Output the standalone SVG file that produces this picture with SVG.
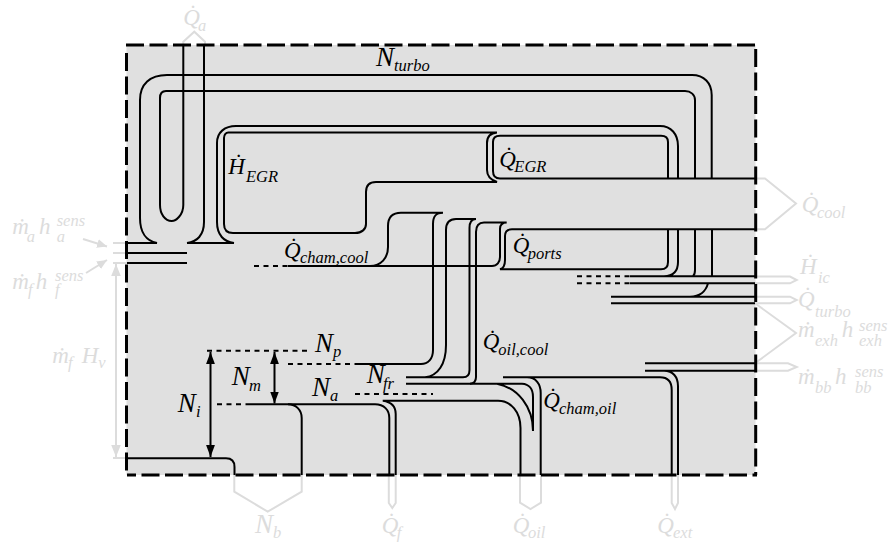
<svg xmlns="http://www.w3.org/2000/svg" width="889" height="545" viewBox="0 0 889 545">
<style>
.k{fill:none;stroke:#000;stroke-width:2}
.d{fill:none;stroke:#000;stroke-width:2;stroke-dasharray:5 4.5}
.g{fill:none;stroke:#dcdcdc;stroke-width:2}
.b{fill:none;stroke:#000;stroke-width:3;stroke-dasharray:18 5.5}
text{font-family:"Liberation Serif","Times New Roman",serif;font-style:italic;font-size:23px;fill:#000}
.n{font-size:27px}
.s{font-size:16.5px}
.l,.l .s{fill:#dcdcdc}
</style>
<defs>
<marker id="ahs" markerWidth="12" markerHeight="16" refX="15" refY="5.5" orient="auto-start-reverse" markerUnits="userSpaceOnUse" viewBox="0 0 15 11"><path d="M0 0L15 5.5L0 11z" fill="#000"/></marker>
<marker id="gh" markerWidth="12" markerHeight="16" refX="15" refY="6" orient="auto-start-reverse" markerUnits="userSpaceOnUse" viewBox="0 0 15 12"><path d="M0 0L15 6L0 12z" fill="#dcdcdc"/></marker>
<marker id="gs" markerWidth="10" markerHeight="9" refX="10" refY="4.5" orient="auto" markerUnits="userSpaceOnUse" viewBox="0 0 10 9"><path d="M0 0L10 4.5L0 9z" fill="#dcdcdc"/></marker>
</defs>
<g id="frame"><rect x="126.5" y="45" width="629" height="430" fill="#e0e0e0" stroke="none"/></g>
<g id="external-flows">
<path class="g" d="M183.3 45V41.7L194.3 31.7L205 41.7V45"/>
<path class="g" d="M755 178.5H765L796 203.5L765 229.3H755"/>
<path class="g" d="M755 276.5H790L796.7 280L790 283.3H755"/>
<path class="g" d="M755 296.7H790L796.7 300L790 303.3H755"/>
<path class="g" d="M755 303.3L796 333L755 363.3"/>
<path class="g" d="M755 363.3H788L796.7 367L788 370.7H755"/>
<path class="g" d="M234.3 475V491.7L267.7 511.7L301.7 491.7V475"/>
<path class="g" d="M388.8 475V503L392.3 508L395.7 503V475"/>
<path class="g" d="M520 475V502.7L530.5 509L541 502.7V475"/>
<path class="g" d="M671.7 475V503L675 509L678 503V475"/>
<path class="g" d="M113 243H127M113 253H127M113 263H127"/>
<path class="g" d="M116 264V457" marker-start="url(#gh)" marker-end="url(#gh)"/>
<path class="g" d="M113 458H127"/>
<path class="g" stroke-width="1.2" d="M83 239L107 246.5" marker-end="url(#gs)"/>
<path class="g" stroke-width="1.2" d="M86 273L107 260" marker-end="url(#gs)"/>
</g>
<g id="connectors">
<path class="k" d="M127 243H157C146 241 140 232 140 218V100C140 84 150 75 167 75H692C704 75 711.7 83 711.7 95V178"/>
<path class="k" d="M183.3 45V205C183.3 215 176 221 171.7 221C165 221 160 214 160 205V98C160 93 162 91 166 91H685C691 91 695 95 695 100V178"/>
<path class="k" d="M204 45V222C204 235 197 242 187 243H234C224 242 217 235 217 222V143C217 132 225 126 236 126H660C671 126 678 134 678 146V178"/>
<path class="k" d="M127 253H187M127 263H187"/>
<path class="k" d="M497 132.5H229C226 132 224 135 224 138V224C224 230 227 233 233 233H355C362 233 366 229 366 224V192C366 185 369 182 376 182H497C491 180 487 177 487 170V143C487 136 491 133 497 132.5"/>
<path class="k" d="M755 178.5H500C495 178.5 493 175 493 171V142C493 138 495 135.7 500 135.7H661C666 135.7 668 138 668 142V178.5"/>
<path class="k" d="M755 229.3H512C507 229.3 505 232 505 236V260C505 265 503 268.5 500 269.3H661C666 269.3 668 267 668 262V229.3"/>
<path class="k" d="M678 229.3V262C678 271 673 276 664 276.3M630 276.3H755M630 283.3H755"/>
<path class="k" d="M695 229.3V270C695 273 694.5 275 693 276.3M712 229.3V276.3"/>
<path class="d" d="M577 276.3H630M577 283.3H630"/>
<path class="k" d="M611 296.7H755M611 303.3H755M708 283.3C706 291 700 296.7 690 296.7"/>
<path class="k" d="M288 266H492C497 266 500 262 500 257V229C500 225 502 222.5 506.7 222.5H484C479 222.5 476 226 476 232V377C476 381 474 383.5 470 383.7"/>
<path class="d" d="M254 266H288"/>
<path class="k" d="M370 266C381 266 388 258 388 247V226C388 217 393 212.7 401 212.7H443C436 212.7 433 216 433 224V350C433 359 428 364 421 364H357"/>
<path class="d" d="M288 364H357"/>
<path class="k" d="M476 219H456C449 219 446 223 446 230V345C446 364 438 376 425 377.3H406M476 219C472 219 469.5 222 469.5 228V370C469.5 375 467 377.3 463 377.3H420"/>
<path class="k" d="M406 383.7H522C529 384 533 389 533 397V431M497 383.7C518 388 533 407 533 431"/>
<path class="k" d="M503 377.3H660C668 377.3 671.7 382 671.7 390V475M527 377.3C536 377.3 540.7 384 540.7 393V475"/>
<path class="k" d="M645 363.3H755M645 370.7H755M664 370.7C673 370.7 678 377 678 386V475"/>
<path class="k" d="M382.7 400.8H498C511 400.8 520.5 412 520.5 428V475M383 400.8C391 402 395.7 406 395.7 414V475"/>
<path class="k" d="M248 404.3H375C384 404.300 389.3 410 389.3 418V475"/>
<path class="d" d="M217 404.3H248"/>
<path class="k" d="M288 404.3C296 404.3 301.7 410 301.7 418V475"/>
<path class="d" d="M207 350.7H311M355 394H433"/>
<path class="k" d="M127 458.3H226C232 458.3 234.5 461 234.5 467V475"/>
<path class="k" d="M210.500 352V457" marker-start="url(#ahs)" marker-end="url(#ahs)"/>
<path class="k" d="M274.500 352V403.500" marker-start="url(#ahs)" marker-end="url(#ahs)"/>
</g>
<g id="frame-border">
<path class="b" d="M126 45H757"/>
<path class="b" d="M755.7 49V475"/>
<path class="b" d="M127 475H757" stroke-dashoffset="9"/>
<path class="b" d="M126.5 53V475"/>
</g>
<g id="labels">
<text id="l-Ntr" class="n" x="376" y="65.7">N<tspan class="s" x="394" y="70.7">turbo</tspan></text>
<text id="l-HEGR" x="228.3" y="174">Ḣ<tspan class="s" x="246" y="182">EGR</tspan></text>
<text id="l-QEGR" x="499.3" y="166.7">Q̇<tspan class="s" x="514.3" y="171.7">EGR</tspan></text>
<text id="l-Qcc" x="284" y="258">Q̇<tspan class="s" x="300" y="262.7">cham,cool</tspan></text>
<text id="l-Qports" x="512.7" y="253">Q̇<tspan class="s" x="527.7" y="259">ports</tspan></text>
<text id="l-Qoc" x="482.7" y="349.3">Q̇<tspan class="s" x="498.3" y="355">oil,cool</tspan></text>
<text id="l-Qco" x="543.3" y="408">Q̇<tspan class="s" x="559" y="414">cham,oil</tspan></text>
<text id="l-Nfr" class="n" x="366.7" y="383.3">N<tspan class="s" x="383" y="389.3">fr</tspan></text>
<text id="l-Np" class="n" x="315" y="351.7">N<tspan class="s" x="333" y="357">p</tspan></text>
<text id="l-Nm" class="n" x="231.7" y="385">N<tspan class="s" x="249" y="391">m</tspan></text>
<text id="l-Na" class="n" x="312" y="396">N<tspan class="s" x="330" y="401">a</tspan></text>
<text id="l-Ni" class="n" x="177.7" y="411.7">N<tspan class="s" x="196" y="417">i</tspan></text>
<g class="l">
<text class="l" x="183.3" y="25">Q̇<tspan class="s" x="198" y="31">a</tspan></text>
<text class="l" x="801.7" y="211.7">Q̇<tspan class="s" x="817" y="217.7">cool</tspan></text>
<text class="l" x="800" y="274">Ḣ<tspan class="s" x="818" y="282.7">ic</tspan></text>
<text class="l" x="798" y="307">Q̇<tspan class="s" x="815" y="316.7">turbo</tspan></text>
<text class="l" x="798" y="336.7">ṁ<tspan class="s" x="815" y="346">exh</tspan><tspan x="841.7" y="336.7">h</tspan><tspan class="s" x="859" y="330.7">sens</tspan><tspan class="s" x="859" y="346">exh</tspan></text>
<text class="l" x="798" y="384">ṁ<tspan class="s" x="815" y="393">bb</tspan><tspan x="835" y="384">h</tspan><tspan class="s" x="855" y="377">sens</tspan><tspan class="s" x="855" y="393">bb</tspan></text>
<text class="l" x="381.7" y="533">Q̇<tspan class="s" x="396.7" y="538">f</tspan></text>
<text class="l" x="512.7" y="533">Q̇<tspan class="s" x="528" y="538">oil</tspan></text>
<text class="l" x="657.3" y="533">Q̇<tspan class="s" x="673" y="538">ext</tspan></text>
<text class="l n" x="255" y="533">N<tspan class="s" x="273" y="538">b</tspan></text>
<text class="l" x="52.3" y="363.3">ṁ<tspan class="s" x="68" y="368">f</tspan><tspan x="81.7" y="363.3">H</tspan><tspan class="s" x="98.3" y="368">v</tspan></text>
<text class="l" x="12.3" y="289.3">ṁ<tspan class="s" x="28" y="295">f</tspan><tspan x="35.7" y="289.3">h</tspan><tspan class="s" x="55" y="281">sens</tspan><tspan class="s" x="55" y="295">f</tspan></text>
<text class="l" x="12.3" y="234">ṁ<tspan class="s" x="26.7" y="241.7">a</tspan><tspan x="39" y="234">h</tspan><tspan class="s" x="56.7" y="225.7">sens</tspan><tspan class="s" x="56.7" y="241.7">a</tspan></text>
</g>
</g>
</svg>
